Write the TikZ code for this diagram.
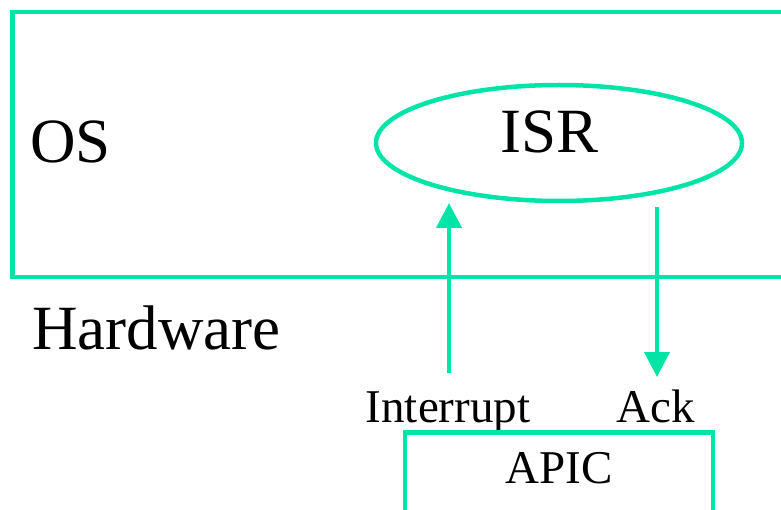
\documentclass[tikz,border=0pt]{standalone}
\usepackage{fontspec}
\setmainfont{Liberation Serif}
\usetikzlibrary{shapes.geometric,arrows.meta}
\definecolor{mint}{HTML}{00E4A8}
\tikzset{layer box/.style={rectangle,draw=mint,line width=4.5pt,inner sep=0pt},
         isr node/.style={ellipse,draw=mint,line width=4.5pt,inner sep=0pt},
         big label/.style={inner sep=0pt,font=\fontsize{63}{63}\selectfont},
         small label/.style={inner sep=0pt,font=\fontsize{47}{47}\selectfont},
         signal/.style={draw=mint,line width=4.5pt,-{Triangle[width=25pt,length=25pt,fill=mint]}},
            }

\begin{document}
\begin{tikzpicture}[x=1pt,y=-1pt]
    \clip (0,0) rectangle (781,510);
    \useasboundingbox (0,0) rectangle (781,510);

    \node[layer box,anchor=north west,minimum width=820pt,minimum height=265pt] (os) at (10,10) {};
    \node[big label,anchor=base west] (oslabel) at (30,163) {OS};
    \node[isr node,minimum width=366pt,minimum height=116pt] (isr) at (559,143) {};
    \node[big label,anchor=base] (isrlabel) at (550,153) {ISR};
    \node[big label,anchor=base west] (hw) at (32,349) {Hardware};

    \node[small label,anchor=base] (int) at (448,422) {Interrupt};
    \node[small label,anchor=base] (ack) at (656,422) {Ack};
    \node[layer box,anchor=north,minimum width=308pt,minimum height=120pt] (apicbox) at (559,430) {};
    \node[small label,anchor=base] (apic) at (559,483) {APIC};

    \coordinate (intfoot) at (449,373);
    \coordinate (inttip) at (449,203);
    \coordinate (acktop) at (657,207);
    \coordinate (ackfoot) at (657,377);

    \draw[signal] (intfoot) -- (inttip);
    \draw[signal] (acktop) -- (ackfoot);
    %%

\end{tikzpicture}
\end{document}
